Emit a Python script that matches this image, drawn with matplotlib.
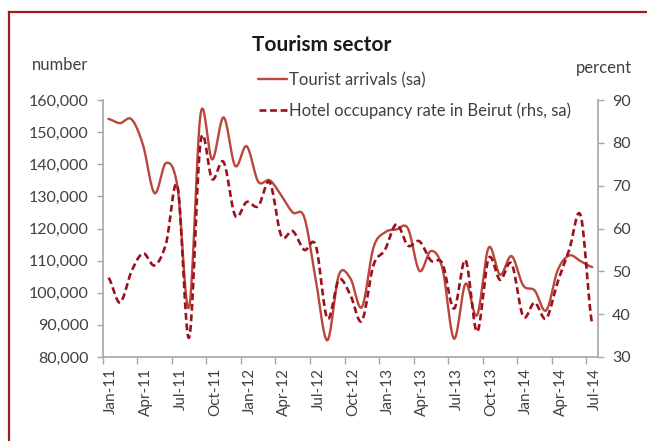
import numpy as np
import matplotlib
matplotlib.use("Agg")
import matplotlib.pyplot as plt
from matplotlib.lines import Line2D
from matplotlib.ticker import FuncFormatter

# Monthly series, Jan-2011 .. Jul-2014
months = ["Jan-11", "Feb-11", "Mar-11", "Apr-11", "May-11", "Jun-11", "Jul-11", "Aug-11",
          "Sep-11", "Oct-11", "Nov-11", "Dec-11", "Jan-12", "Feb-12", "Mar-12", "Apr-12",
          "May-12", "Jun-12", "Jul-12", "Aug-12", "Sep-12", "Oct-12", "Nov-12", "Dec-12",
          "Jan-13", "Feb-13", "Mar-13", "Apr-13", "May-13", "Jun-13", "Jul-13", "Aug-13",
          "Sep-13", "Oct-13", "Nov-13", "Dec-13", "Jan-14", "Feb-14", "Mar-14", "Apr-14",
          "May-14", "Jun-14", "Jul-14"]

tourist_arrivals = [154100, 152800, 154000, 146000, 131000, 140400, 132800, 95500,
                    155700, 141500, 154600, 139500, 145600, 134600, 135000, 130300,
                    125000, 123500, 104000, 85200, 105500, 104500, 95500, 114000,
                    118800, 119700, 120000, 106800, 113000, 107500, 85700, 102800,
                    93000, 114000, 105600, 111400, 102300, 100700, 94500, 107000,
                    111600, 109800, 108000]

hotel_occupancy = [48.5, 42.7, 50.0, 54.2, 51.4, 56.5, 69.8, 34.5,
                   80.3, 71.5, 75.5, 63.0, 66.2, 65.2, 70.8, 58.3,
                   59.4, 55.0, 56.0, 39.0, 48.0, 44.5, 38.4, 51.4,
                   55.0, 61.0, 56.0, 57.0, 52.5, 51.8, 41.3, 52.6,
                   35.9, 53.0, 48.0, 51.8, 39.5, 42.7, 39.0, 47.5,
                   55.0, 63.0, 37.6]

tick_labels = months[::3]

left_ticks = list(range(80000, 160001, 10000))
right_ticks = list(range(30, 91, 10))

TEXT = "#404040"
AXIS = "#a6a6a6"
SOLID = "#b9473b"
DASHED = "#9b111e"
FRAME = "#9b1c20"

plt.rcParams["font.family"] = ["Lato", "DejaVu Sans"]


def smooth(y, n=20):
    """Catmull-Rom curve through the points (x = 0, 1, 2, ...)."""
    y = np.asarray(y, dtype=float)
    p = np.concatenate([[y[0]], y, [y[-1]]])
    xs, ys = [], []
    t = np.linspace(0, 1, n, endpoint=False)
    for i in range(len(y) - 1):
        p0, p1, p2, p3 = p[i], p[i + 1], p[i + 2], p[i + 3]
        m1 = (p2 - p0) / 2.0
        m2 = (p3 - p1) / 2.0
        h00 = 2 * t**3 - 3 * t**2 + 1
        h10 = t**3 - 2 * t**2 + t
        h01 = -2 * t**3 + 3 * t**2
        h11 = t**3 - t**2
        ys.append(h00 * p1 + h10 * m1 + h01 * p2 + h11 * m2)
        xs.append(i + t)
    xs.append([len(y) - 1])
    ys.append([y[-1]])
    return np.concatenate(xs), np.concatenate(ys)


W, H = 647, 441
fig = plt.figure(figsize=(W / 100, H / 100), dpi=100)
ax = fig.add_axes([102.7 / W, 1 - 357 / H, (598 - 102.7) / W, (357 - 100) / H])
ax2 = ax.twinx()

sx, sy = smooth(tourist_arrivals)
l1, = ax.plot(sx, sy, color=SOLID, lw=1.7, solid_capstyle="round")
hx, hy = smooth(hotel_occupancy)
l2, = ax2.plot(hx, hy, color=DASHED, lw=1.9, dashes=(2.6, 1.4))

ax.set_xlim(-0.5, len(months) - 0.5)
ax.set_ylim(80000, 160000)
ax2.set_ylim(30, 90)
ax.set_yticks(left_ticks)
ax2.set_yticks(right_ticks)
ax.yaxis.set_major_formatter(FuncFormatter(lambda v, p: f"{int(v):,}"))

# category boundaries get the tick marks, labels sit on the months
ax.set_xticks(np.arange(0, len(months), 3) + 0.25)
ax.set_xticklabels(tick_labels, rotation=90)
ax.set_xticks(np.arange(-0.5, len(months), 3), minor=True)
ax.tick_params(axis="x", which="major", length=0, pad=8, labelsize=11, labelcolor=TEXT)
ax.tick_params(axis="x", which="minor", length=5, width=1, color=AXIS, direction="out")

ax.tick_params(axis="y", length=4, width=1, color=AXIS, pad=6, labelsize=11.5, labelcolor=TEXT)
ax2.tick_params(axis="y", length=4, width=1, color=AXIS, pad=6, labelsize=11.5, labelcolor=TEXT)

for a in (ax, ax2):
    a.spines["top"].set_visible(False)
    for s in ("left", "right", "bottom"):
        a.spines[s].set_color(AXIS)
        a.spines[s].set_linewidth(1.2)
ax.spines["right"].set_visible(False)
ax2.spines["left"].set_visible(False)
ax2.spines["bottom"].set_visible(False)

# titles and axis captions
fig.text(322 / W, 1 - 45 / H, "Tourism sector", ha="center", va="center",
         fontsize=15, fontweight="bold", color="#1a1a1a")
fig.text(60 / W, 1 - 65 / H, "number", ha="center", va="center", fontsize=12, color=TEXT)
fig.text(604 / W, 1 - 68 / H, "percent", ha="center", va="center", fontsize=12, color=TEXT)

# legend entries on two rows
leg1 = fig.legend(handles=[l1], labels=["Tourist arrivals (sa)"], loc="center left",
                  bbox_to_anchor=(258 / W, 1 - 80 / H), frameon=False, borderpad=0,
                  borderaxespad=0, handlelength=1.75, handletextpad=0.12, fontsize=12,
                  labelcolor=TEXT)
leg2 = fig.legend(handles=[l2], labels=["Hotel occupancy rate in Beirut (rhs, sa)"],
                  loc="center left", bbox_to_anchor=(259 / W, 1 - 111 / H), frameon=False,
                  borderpad=0, borderaxespad=0, handlelength=1.7, handletextpad=0.12,
                  fontsize=12, labelcolor=TEXT)

# frame on the top and left edges
fig.add_artist(Line2D([9 / W, 9 / W], [0, 1 - 12 / H], transform=fig.transFigure,
                      color=FRAME, lw=1.6))
fig.add_artist(Line2D([9 / W, 1], [1 - 12 / H, 1 - 12 / H], transform=fig.transFigure,
                      color=FRAME, lw=1.6))

fig.savefig("out.png", dpi=100, facecolor="white")
